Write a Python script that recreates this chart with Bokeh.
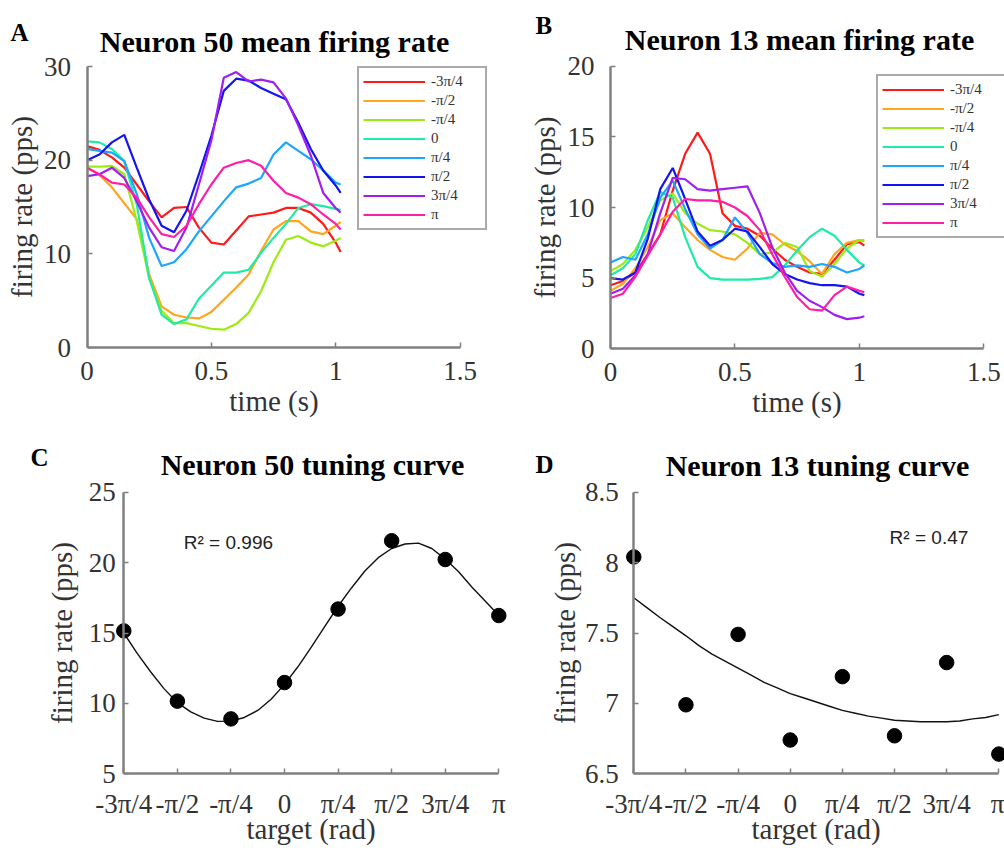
import numpy as np
from bokeh.plotting import figure
from bokeh.layouts import column, row
from bokeh.models import Legend, LegendItem, Label, FixedTicker, Range1d
from bokeh.embed import file_html
from bokeh.resources import INLINE

# ---------------- data ----------------
directions = ["-3π/4", "-π/2", "-π/4", "0", "π/4", "π/2", "3π/4", "π"]
line_colors = ["#FF1A1A", "#FFA51E", "#9CEB14", "#1EEBA5", "#1EA5FF", "#1414F0", "#A01EF0", "#FF1EA5"]

time_s = [0.0, 0.05, 0.10, 0.15, 0.20, 0.25, 0.30, 0.35, 0.40, 0.45, 0.50,
          0.55, 0.60, 0.65, 0.70, 0.75, 0.80, 0.85, 0.90, 0.95, 1.00, 1.02]

# Neuron 50 mean firing rate (pps)
n50_m3pi4 = [21.5, 21.1, 20.3, 19.2, 17.4, 15.6, 13.9, 14.9, 15.0, 12.8, 11.2,
             11.0, 12.5, 14.0, 14.2, 14.4, 14.9, 14.9, 14.4, 13.2, 11.2, 10.2]
n50_mpi2 = [19.2, 18.4, 17.1, 15.4, 13.7, 7.8, 4.4, 3.5, 3.2, 3.1, 3.8,
            5.1, 6.4, 7.8, 10.3, 12.6, 13.5, 13.5, 12.4, 12.1, 13.0, 13.4]
n50_mpi4 = [19.3, 19.3, 19.4, 18.5, 13.5, 7.4, 3.9, 2.6, 2.6, 2.3, 2.0,
            1.9, 2.5, 3.7, 6.0, 9.1, 11.5, 11.9, 11.2, 10.8, 11.4, 11.7]
n50_0 = [22.0, 21.9, 21.2, 19.9, 15.3, 7.4, 3.5, 2.5, 3.0, 5.2, 6.6,
         8.0, 8.0, 8.3, 10.1, 11.7, 13.2, 14.9, 15.3, 15.1, 14.8, 14.7]
n50_pi4 = [21.2, 21.0, 20.8, 19.9, 16.4, 11.7, 8.7, 9.1, 10.5, 12.4, 14.0,
           15.6, 17.1, 17.5, 18.1, 20.6, 21.9, 21.0, 20.1, 18.9, 17.6, 17.4]
n50_pi2 = [20.0, 20.6, 21.9, 22.7, 19.2, 15.8, 13.0, 12.3, 14.6, 18.5, 22.6,
           27.4, 28.7, 28.5, 27.7, 27.1, 26.5, 24.0, 21.2, 18.9, 17.3, 16.5]
n50_3pi4 = [18.3, 18.5, 19.2, 18.1, 15.6, 12.8, 10.7, 10.3, 12.8, 17.4, 22.1,
            28.8, 29.4, 28.4, 28.6, 28.3, 26.6, 23.7, 20.5, 16.5, 14.9, 14.4]
n50_pi = [19.2, 18.5, 17.6, 17.4, 16.0, 13.9, 12.1, 11.8, 13.0, 15.3, 17.4,
          19.2, 19.7, 20.0, 19.4, 17.8, 16.5, 16.0, 15.3, 14.2, 13.2, 12.6]

# Neuron 13 mean firing rate (pps)
n13_m3pi4 = [4.5, 4.8, 5.4, 6.7, 8.1, 11.2, 13.8, 15.3, 13.8, 9.6, 8.7,
             8.5, 8.0, 7.1, 6.3, 5.8, 5.4, 5.3, 6.3, 7.4, 7.55, 7.3]
n13_mpi2 = [4.1, 4.6, 5.7, 7.2, 9.1, 9.6, 8.6, 7.7, 7.0, 6.5, 6.3,
            7.1, 8.2, 8.1, 7.4, 6.9, 6.2, 5.3, 6.7, 7.5, 7.7, 7.6]
n13_mpi4 = [5.5, 6.0, 7.0, 8.6, 10.5, 11.0, 9.6, 8.85, 8.4, 8.3, 8.1,
            7.5, 6.7, 6.8, 7.5, 7.2, 5.5, 5.1, 6.0, 7.1, 7.7, 7.7]
n13_0 = [5.2, 5.7, 6.7, 9.1, 11.1, 10.7, 7.9, 5.8, 5.0, 4.9, 4.9,
         4.9, 4.95, 5.07, 5.9, 6.96, 7.9, 8.5, 8.0, 7.0, 6.1, 5.9]
n13_pi4 = [6.1, 6.5, 6.3, 8.1, 10.7, 11.9, 9.9, 8.1, 7.1, 7.7, 9.3,
           8.2, 6.7, 6.06, 5.8, 5.9, 5.8, 6.0, 5.8, 5.4, 5.65, 5.9]
n13_pi2 = [5.0, 4.9, 5.4, 7.8, 11.3, 12.8, 10.6, 8.3, 7.3, 7.7, 8.5,
           8.3, 7.2, 6.0, 5.3, 4.9, 4.65, 4.5, 4.5, 4.4, 3.9, 3.8]
n13_3pi4 = [3.9, 4.25, 5.2, 6.7, 9.6, 12.1, 12.0, 11.3, 11.2, 11.3, 11.4,
            11.5, 9.6, 7.2, 5.4, 4.1, 3.4, 2.95, 2.4, 2.1, 2.2, 2.3]
n13_pi = [3.6, 3.9, 5.1, 6.6, 8.1, 9.7, 10.6, 10.5, 10.5, 10.4, 10.0,
          9.4, 8.4, 6.7, 5.1, 3.66, 2.8, 2.7, 3.8, 4.4, 4.1, 4.0]

# tuning curves: target direction in multiples of pi
target_pi = [-0.75, -0.5, -0.25, 0.0, 0.25, 0.5, 0.75, 1.0]
target_labels = ["-3π/4", "-π/2", "-π/4", "0", "π/4", "π/2", "3π/4", "π"]
n50_tuning = [15.15, 10.16, 8.9, 11.48, 16.7, 21.55, 20.22, 16.24]
n13_tuning = [8.04, 6.99, 7.49, 6.74, 7.19, 6.77, 7.29, 6.64]

fit_theta_pi = [-0.75, -0.6875, -0.625, -0.5625, -0.5, -0.4375, -0.375, -0.3125, -0.25,
                -0.1875, -0.125, -0.0625, 0.0, 0.0625, 0.125, 0.1875, 0.25, 0.3125,
                0.375, 0.4375, 0.5, 0.5625, 0.625, 0.6875, 0.75, 0.8125, 0.875, 0.9375, 1.0]
n50_fit = [15.0, 13.55, 12.25, 11.05, 10.05, 9.4, 8.95, 8.72, 8.74, 9.0, 9.5,
           10.3, 11.35, 12.6, 14.0, 15.45, 16.9, 18.2, 19.4, 20.35, 21.0, 21.32, 21.38,
           21.0, 20.25, 19.35, 18.25, 17.25, 16.24]
n13_fit = [7.75, 7.68, 7.61, 7.545, 7.48, 7.41, 7.35, 7.30, 7.25, 7.20, 7.15,
           7.11, 7.07, 7.04, 7.01, 6.98, 6.95, 6.93, 6.91, 6.895, 6.88, 6.875, 6.87,
           6.87, 6.87, 6.875, 6.89, 6.90, 6.92]

# ---------------- styling helpers ----------------
SERIF = "Liberation Serif"
AXIS_GRAY = "#808080"
TEXT_GRAY = "#333333"


def pixel_range(v0, q0, v1, q1, size):
    """Range whose values v0, v1 land on pixels q0, q1 (counted from left / bottom)."""
    scale = (q1 - q0) / (v1 - v0)
    return Range1d(v0 - q0 / scale, v0 + (size - q0) / scale)


def style_axis(ax, label_standoff, axis_label_standoff):
    ax.axis_line_color = AXIS_GRAY
    ax.axis_line_width = 2.5
    ax.major_tick_line_color = AXIS_GRAY
    ax.major_tick_line_width = 1.5
    ax.major_tick_in = 5
    ax.major_tick_out = 0
    ax.minor_tick_line_color = None
    ax.major_label_text_font = SERIF
    ax.major_label_text_font_size = "27px"
    ax.major_label_text_color = TEXT_GRAY
    ax.axis_label_text_font = SERIF
    ax.axis_label_text_font_style = "normal"
    ax.axis_label_text_font_size = "29px"
    ax.axis_label_text_color = TEXT_GRAY
    ax.major_label_standoff = label_standoff
    ax.axis_label_standoff = axis_label_standoff


def base_fig(w, h, xr, yr):
    p = figure(width=w, height=h, x_range=xr, y_range=yr,
               output_backend="svg", toolbar_location=None, title_location=None,
               min_border_left=0, min_border_right=0, min_border_top=0, min_border_bottom=0)
    p.outline_line_color = None
    p.xgrid.visible = False
    p.ygrid.visible = False
    return p


def add_text(p, txt, x, y, size, bold=True, align="left", font=SERIF, color="black"):
    p.add_layout(Label(x=x, y=y, x_units="screen", y_units="screen", text=txt,
                       text_font=font, text_font_style="bold" if bold else "normal",
                       text_font_size=size, text_color=color, text_align=align,
                       text_baseline="alphabetic"))


def rate_panel(series, y_max, y_ticks, w, h, x0_px, x15_px, ytop_px, y0_px, leg_xy, leg_label_w):
    xr = pixel_range(0, x0_px, 1.5, x15_px, w)
    yr = pixel_range(0, h - y0_px, y_max, h - ytop_px, h)
    p = base_fig(w, h, xr, yr)
    xa, ya = p.xaxis[0], p.yaxis[0]
    style_axis(xa, 14, 2)
    style_axis(ya, 16, 4)
    xa.fixed_location = 0
    ya.fixed_location = 0
    xa.bounds = (0, 1.5)
    ya.bounds = (0, y_max)
    xa.ticker = FixedTicker(ticks=[0, 0.5, 1, 1.5])
    ya.ticker = FixedTicker(ticks=y_ticks)
    xa.axis_label = "time (s)"
    ya.axis_label = "firing rate (pps)"
    items = []
    for lab, col, vals in zip(directions, line_colors, series):
        r = p.line(time_s, vals, line_color=col, line_width=2.2)
        items.append(LegendItem(label=lab, renderers=[r]))
    leg = Legend(items=items, location=leg_xy, orientation="vertical",
                 border_line_color="#555555", border_line_width=2,
                 background_fill_color="white", background_fill_alpha=1.0,
                 padding=4, spacing=0, margin=0,
                 glyph_width=62, glyph_height=19, label_height=19, label_width=leg_label_w,
                 label_standoff=6, label_text_font=SERIF, label_text_font_size="15px",
                 label_text_line_height=1.0, label_text_color=TEXT_GRAY)
    p.add_layout(leg)
    return p


def tuning_panel(means, fit, y_lo, y_hi, y_ticks, w, h, ax0_px, ax1_px, ytop_px, ybot_px,
                 tick_standoff, label_standoff, r2_text, r2_xy):
    ticks = [v * np.pi for v in target_pi]
    xr = pixel_range(ticks[0], ax0_px, ticks[-1], ax1_px, w)
    yr = pixel_range(y_lo, h - ybot_px, y_hi, h - ytop_px, h)
    p = base_fig(w, h, xr, yr)
    xa, ya = p.xaxis[0], p.yaxis[0]
    style_axis(xa, 15, -9)
    style_axis(ya, tick_standoff, label_standoff)
    xa.fixed_location = y_lo
    ya.fixed_location = ticks[0]
    xa.bounds = (ticks[0], ticks[-1])
    ya.bounds = (y_lo, y_hi)
    xa.ticker = FixedTicker(ticks=ticks)
    xa.major_label_overrides = {t: l for t, l in zip(ticks, target_labels)}
    ya.ticker = FixedTicker(ticks=y_ticks)
    xa.axis_label = "target (rad)"
    ya.axis_label = "firing rate (pps)"
    fx = [v * np.pi for v in fit_theta_pi]
    p.line(fx, fit, line_color="#111111", line_width=1.4)
    p.scatter(ticks, means, size=14.5, fill_color="black", line_color="black", marker="circle")
    p.add_layout(Label(x=r2_xy[0], y=r2_xy[1], text=r2_text, text_font="Liberation Sans",
                       text_font_size="19px", text_color="#222222", text_baseline="alphabetic"))
    return p


TOP_H = 425
BOT_H = 851 - TOP_H

pA = rate_panel([n50_m3pi4, n50_mpi2, n50_mpi4, n50_0, n50_pi4, n50_pi2, n50_3pi4, n50_pi],
                30, [0, 10, 20, 30], 500, TOP_H, 86.5, 459.5, 66, 347, (357, 195), 50)
add_text(pA, "A", 10, TOP_H - 32, "25px")
add_text(pA, "Neuron 50 mean firing rate", 274, TOP_H - 41, "30px", align="center")

pB = rate_panel([n13_m3pi4, n13_mpi2, n13_mpi4, n13_0, n13_pi4, n13_pi2, n13_3pi4, n13_pi],
                20, [0, 5, 10, 15, 20], 504, TOP_H, 110, 483.3, 65.7, 348.3, (376, 187), 60)
add_text(pB, "B", 35, TOP_H - 25, "25px")
add_text(pB, "Neuron 13 mean firing rate", 299, TOP_H - 39, "30px", align="center")

pC = tuning_panel(n50_tuning, n50_fit, 5, 25, [5, 10, 15, 20, 25], 510, BOT_H,
                  123.3, 498.3, 66.7, 348.3, 8, 8, "R² = 0.996", (-1.477, 21.45))
add_text(pC, "C", 30, BOT_H - 32, "25px")
add_text(pC, "Neuron 50 tuning curve", 312, BOT_H - 39, "30px", align="center")

pD = tuning_panel(n13_tuning, n13_fit, 6.5, 8.5, [6.5, 7, 7.5, 8, 8.5], 494, BOT_H,
                  123.3, 488.3, 66.7, 348.3, 15, 1, "R² = 0.47", (1.497, 8.18))
add_text(pD, "D", 25, BOT_H - 39, "25px")
add_text(pD, "Neuron 13 tuning curve", 307, BOT_H - 40, "30px", align="center")

layout = column(row(pA, pB), row(pC, pD))
open("out.html", "w").write(file_html(layout, INLINE))
